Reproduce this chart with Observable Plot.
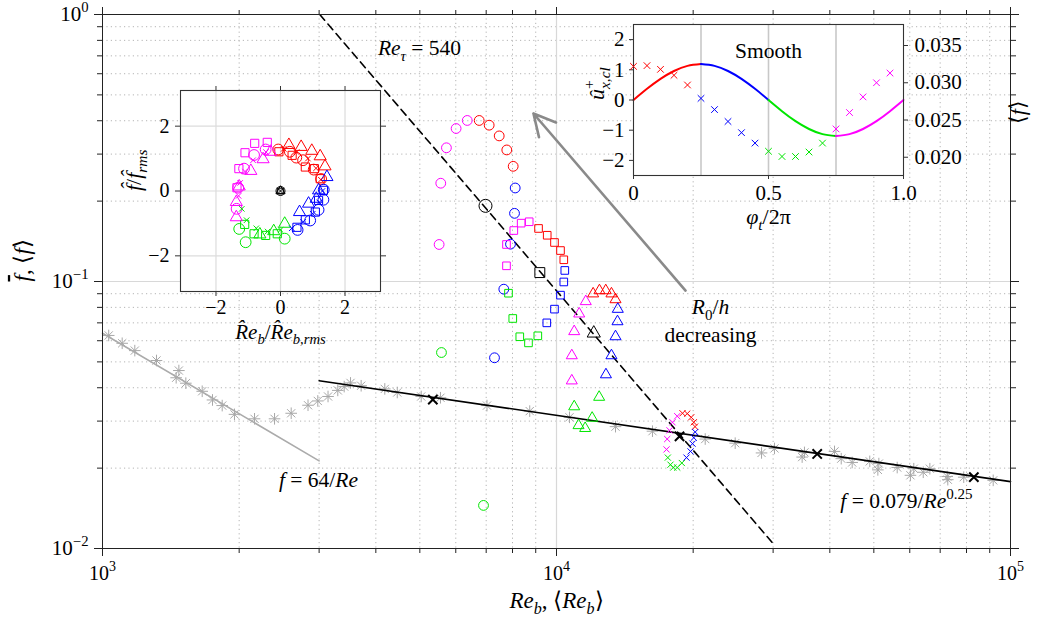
<!DOCTYPE html>
<html><head><meta charset="utf-8">
<script src="https://cdn.jsdelivr.net/npm/d3@7"></script>
<script src="https://cdn.jsdelivr.net/npm/@observablehq/plot@0.6"></script>
<style>
html,body{margin:0;padding:0;background:#fff;}
#wrap{position:relative;width:1038px;height:628px;overflow:hidden;background:#fff;}
#wrap svg{position:absolute;overflow:visible;}
</style></head><body><div id="wrap"></div>
<script>
// ---------------- main axes ticks ----------------
const xTicksMajor = [1e3, 1e4, 1e5];
const xTicksMinor = [2e3,3e3,4e3,5e3,6e3,7e3,8e3,9e3,2e4,3e4,4e4,5e4,6e4,7e4,8e4,9e4];
const yTicksMajor = [0.01, 0.1, 1];
const yTicksMinor = [0.02,0.03,0.04,0.05,0.06,0.07,0.08,0.09,0.2,0.3,0.4,0.5,0.6,0.7,0.8,0.9];

// ---------------- grey reference data (asterisks) ----------------
const refRe = [1032,1105,1178,1315,1473,1453,1526,1658,1747,1835,1953,2162,2393,2604,2836,2980,3139,3298,3407,3518,3713,4186,4459,5035,5552,7029,8730,10681,13489,16270,21260,24750,28290,30210,34760,35170,40960,42380,44800,48980,51290,51030,56290,60200,61230,64240,66430,72540,72760,78890,91600];
const refF  = [0.0628,0.0587,0.0551,0.0506,0.0464,0.0436,0.0416,0.0388,0.0360,0.0343,0.0318,0.0306,0.0306,0.0321,0.0344,0.0357,0.0371,0.0391,0.0404,0.0417,0.0407,0.0396,0.0384,0.0371,0.0367,0.0343,0.0327,0.0310,0.0286,0.0275,0.0257,0.0248,0.0228,0.0237,0.0220,0.0229,0.0231,0.0217,0.0210,0.0212,0.0208,0.0197,0.0201,0.0188,0.0199,0.0193,0.0199,0.0186,0.0181,0.0185,0.0180];

// correlation lines (endpoints)
const laminarRe = [1000, 3000];
const laminarF  = [0.064, 0.0213];
const turbRe = [3000, 100000];
const turbF  = [0.0425, 0.0178];
const retauRe = [3010, 29900];
const retauF  = [1.0, 0.0105];

// ---------------- pulsating cycles (quarter 0 red,1 blue,2 green,3 magenta) ----------------
const phaseColors = ["#ff0000", "#0000ff", "#00e600", "#ff00ff"];

const circleRe = [6757,7107,7478,7772,8028, 8110,8082,7919,7655,7302, 6906,5580, 5514,5560,5722,6010,6359];
const circleF  = [0.401,0.385,0.351,0.311,0.270, 0.224,0.180,0.138,0.0936,0.0518, 0.0145,0.0542, 0.1376,0.2334,0.3168,0.3741,0.401];
const circleQ  = [0,0,0,0,0, 1,1,1,1,1, 2,2, 3,3,3,3,3];

const squareRe = [9129,9540,9899,10205,10377, 10430,10377,10205,9899,9520, 9096,8675,8301,8011,7839, 7760,7760,8053,8359,8707];
const squareF  = [0.158,0.149,0.140,0.1306,0.1206, 0.110,0.0996,0.0889,0.0788,0.070, 0.0626,0.0589,0.0621,0.0727,0.0904, 0.1145,0.1376,0.1552,0.1654,0.1674];
const squareQ  = [0,0,0,0,0, 1,1,1,1,1, 2,2,2,2,2, 3,3,3,3,3];

const triRe = [12042,12433,12838,13214,13489, 13646,13626,13489,13214,12850, 12415,11982,11565,11182,10940, 10807,10807,10940,11220,11600];
const triF  = [0.090,0.0925,0.0925,0.090,0.0856, 0.0788,0.0708,0.0622,0.0528,0.0448, 0.0369,0.0308,0.0282,0.0289,0.034, 0.0425,0.0528,0.065,0.0757,0.0842];
const triQ  = [0,0,0,0,0, 1,1,1,1,1, 2,2,2,2,2, 3,3,3,3,3];

const crossRe = [18948,19407,19804,20065,20190, 20208,20065,19937,19735,19335, 18883,18447,18077,17828,17588, 17472,17533,17739,18011,18447];
const crossF  = [0.0321,0.0320,0.0310,0.0297,0.0286, 0.0273,0.0260,0.0247,0.0231,0.0219, 0.0209,0.0201,0.0201,0.0206,0.0219, 0.0235,0.0257,0.0277,0.0297,0.0313];
const crossQ  = [0,0,0,0,0, 1,1,1,1,1, 2,2,2,2,2, 3,3,3,3,3];

// cycle means (black)
const meanShapes = ["circle", "square", "triangle", "times"];
const meanRe = [6976, 9189, 12081, 18663];
const meanF  = [0.192, 0.108, 0.064, 0.0263];
// steady cases on the Blasius line (black x)
const steadyRe = [5341, 37516, 83040];
const steadyF  = [0.0361, 0.0226, 0.0185];

// arrow "R0/h decreasing" (tail, head)
const arrowRe = [19240, 8897];
const arrowF  = [0.0925, 0.4258];

// annotations
const noteText = ["*Re*_{*τ*} = 540", "*f* = 64/*Re*", "*f* = 0.079/*Re*^{0.25}", "*R*_{0}/*h*", "decreasing"];
const noteRe   = [4992, 2991, 59000, 21840, 21840];
const noteF    = [0.7457, 0.01798, 0.0150, 0.0800, 0.0632];
const xTitle = "*Re*_{*b*}, ⟨*Re*_{*b*}⟩";
const yTitle = "!{*f*}, ⟨*f*⟩";

// ---------------- left inset: normalised fluctuations ----------------
const insetTicks = [-2, 0, 2];
const inCircleU = [-0.07,0.29,0.49,0.70,1.03,1.26, 1.34,1.33,1.18,0.92,0.53, 0.13,-1.08,-1.28, -1.36,-1.31,-1.13,-0.82,-0.46];
const inCircleV = [1.28,1.21,1.03,0.95,0.66,0.37, 0.04,-0.27,-0.58,-0.91,-1.20, -1.47,-1.58,-1.17, -0.55,0.10,0.69,1.11,1.28];
const inCircleQ = [0,0,0,0,0,0, 1,1,1,1,1, 2,2,2, 3,3,3,3,3];
const inSquareU = [-0.05,0.36,0.77,1.05,1.23, 1.33,1.18,1.08,0.77,0.51, -0.10,-0.46,-0.82,-1.11, -1.35,-1.29,-1.10,-0.80,-0.41];
const inSquareV = [1.21,1.10,0.74,0.69,0.38, 0.02,-0.29,-0.65,-0.89,-1.12, -1.32,-1.37,-1.32,-1.03, 0.10,0.69,1.18,1.47,1.50];
const inSquareQ = [0,0,0,0,0, 1,1,1,1,1, 2,2,2,2, 3,3,3,3,3];
const inTriU = [0.26,0.64,0.97,1.23,1.38, 1.44,1.18,1.11,0.87,0.59, 0.13,-0.21,-0.64, -1.37,-1.37,-1.28,-0.92,-0.54,-0.31];
const inTriV = [1.42,1.36,1.24,1.07,0.76, 0.43,0.02,-0.24,-0.39,-0.65, -1.01,-1.24,-1.34, -0.81,-0.34,0.14,0.62,0.98,1.21];
const inTriQ = [0,0,0,0,0, 1,1,1,1,1, 2,2,2, 3,3,3,3,3,3];
const inCrossU = [0.1,0.5,0.85,1.1,1.25, 1.3,1.2,1.0,0.7,0.35, 0.0,-0.4,-0.75,-1.05,-1.2, -1.3,-1.25,-1.1,-0.85,-0.45];
const inCrossV = [1.3,1.2,1.0,0.7,0.35, 0.0,-0.35,-0.7,-0.95,-1.15, -1.2,-1.25,-1.15,-0.9,-0.55, -0.15,0.25,0.6,0.95,1.2];
const inCrossQ = [0,0,0,0,0, 1,1,1,1,1, 2,2,2,2,2, 3,3,3,3,3];

// ---------------- right inset: "Smooth" cycle ----------------
const phiTicks = [0, 0.5, 1];
const phiQuarters = [0.25, 0.5, 0.75];
const uTicks = [-2, -1, 0, 1, 2];
const fTicks = [0.020, 0.025, 0.030, 0.035];
const curvePhi = [0,0.05,0.1,0.15,0.2,0.25,0.3,0.35,0.4,0.45,0.5,0.55,0.6,0.65,0.7,0.75,0.8,0.85,0.9,0.95,1.0];
const curveU   = [0,0.37,0.70,0.96,1.13,1.19,1.13,0.96,0.70,0.37,0,-0.37,-0.70,-0.96,-1.13,-1.19,-1.13,-0.96,-0.70,-0.37,0];
const cyclePhi = [0,0.05,0.1,0.15,0.2,0.25,0.3,0.35,0.4,0.45,0.5,0.55,0.6,0.65,0.7,0.75,0.8,0.85,0.9,0.95];
const cycleF   = [0.0322,0.0323,0.0318,0.0310,0.0297,0.0279,0.0264,0.0248,0.0233,0.0219,0.0208,0.0201,0.0201,0.0207,0.0219,0.0238,0.0260,0.0281,0.0300,0.0313];
const cycleQ   = [0,0,0,0,0, 1,1,1,1,1, 2,2,2,2,2, 3,3,3,3,3];

// =============================================================
const FONT = "Liberation Serif";
const zip = (xs, ys, qs) => xs.map((x, i) => ({x, y: ys[i], q: qs ? qs[i] : 0}));
const wrap = document.getElementById("wrap");
const minus = d => (d < 0 ? "−" : "") + Math.abs(d);

const asterisk = {
  draw(ctx, size) {
    const r = Math.sqrt(size / Math.PI), d = r * Math.SQRT1_2;
    ctx.moveTo(-r, 0); ctx.lineTo(r, 0);
    ctx.moveTo(0, -r); ctx.lineTo(0, r);
    ctx.moveTo(-d, -d); ctx.lineTo(d, d);
    ctx.moveTo(-d, d); ctx.lineTo(d, -d);
  }
};

// rich text: *italic*, _{sub}, ^{sup}, !{overline}, & = back over previous run
function richify(svg) {
  d3.select(svg).selectAll("text").each(function () {
    this.setAttribute("font-family", FONT);
    this.style.setProperty("font-family", FONT, "important");
    const str = this.textContent;
    if (!/[*_^!&]/.test(str)) return;
    const fs = parseFloat(getComputedStyle(this).fontSize) || 16;
    const sel = d3.select(this);
    sel.text(null);
    let italic = false, cur = 0, buf = "", last = null, pendingDx = 0;
    const stack = [{lvl: 0, over: false}];
    const flush = () => {
      if (!buf) return;
      const top = stack[stack.length - 1];
      const target = top.lvl === 1 ? 0.28 * fs : top.lvl === 2 ? -0.42 * fs : 0;
      const ts = sel.append("tspan").text(buf);
      if (italic) ts.attr("font-style", "italic");
      if (top.lvl) ts.attr("font-size", 0.7 * fs);
      if (top.over) ts.style("text-decoration", "overline");
      if (target !== cur) { ts.attr("dy", target - cur); cur = target; }
      if (pendingDx) { ts.attr("dx", pendingDx); pendingDx = 0; }
      last = ts; buf = "";
    };
    for (let i = 0; i < str.length; i++) {
      const c = str[i];
      const top = stack[stack.length - 1];
      if (c === "*") { flush(); italic = !italic; }
      else if ((c === "_" || c === "^" || c === "!") && str[i + 1] === "{") {
        flush();
        stack.push(c === "!" ? {lvl: top.lvl, over: true} : {lvl: c === "_" ? 1 : 2, over: top.over});
        i++;
      }
      else if (c === "}" && stack.length > 1) { flush(); stack.pop(); }
      else if (c === "&") { flush(); if (last) pendingDx = -last.node().getComputedTextLength(); }
      else buf += c;
    }
    flush();
  });
}

function place(svg, left, top) {
  svg.style.left = left + "px";
  svg.style.top = top + "px";
  svg.setAttribute("font-family", FONT);
  svg.style.setProperty("font-family", FONT, "important");
  wrap.appendChild(svg);
  richify(svg);
}

const baseStyle = {fontSize: "20px", background: "transparent", overflow: "visible"};
const dotted = {stroke: "#b4b4b4", strokeDasharray: "1.2,3.2", strokeWidth: 1};

// ---------------- main chart ----------------
const loops = [
  {Re: circleRe, F: circleF, Q: circleQ, symbol: "circle", r: 4.9},
  {Re: squareRe, F: squareF, Q: squareQ, symbol: "square", r: 4.3},
  {Re: triRe, F: triF, Q: triQ, symbol: "triangle", r: 4.1},
  {Re: crossRe, F: crossF, Q: crossQ, symbol: "times", r: 2.9}
];
const meanR = [6.5, 5.6, 4.9, 4.3];

const main = Plot.plot({
  width: 1038, height: 628,
  marginLeft: 102, marginRight: 28, marginTop: 14, marginBottom: 80,
  x: {type: "log", domain: [1e3, 1e5], label: null},
  y: {type: "log", domain: [0.01, 1], label: null},
  color: {type: "identity"},
  style: baseStyle,
  marks: [
    Plot.ruleX(xTicksMinor, dotted),
    Plot.ruleY(yTicksMinor, dotted),
    Plot.ruleX(xTicksMajor.slice(1, -1), {stroke: "#d8d8d8", strokeWidth: 1.2}),
    Plot.ruleY(yTicksMajor.slice(1, -1), {stroke: "#d8d8d8", strokeWidth: 1.2}),
    Plot.dot(zip(refRe, refF), {x: "x", y: "y", symbol: asterisk, r: 5.8, stroke: "#a8a8a8", fill: "none", strokeWidth: 1}),
    Plot.line(zip(laminarRe, laminarF), {x: "x", y: "y", stroke: "#ababab", strokeWidth: 1.6}),
    Plot.line(zip(turbRe, turbF), {x: "x", y: "y", stroke: "#000", strokeWidth: 1.6}),
    Plot.line(zip(retauRe, retauF), {x: "x", y: "y", stroke: "#000", strokeWidth: 1.6, strokeDasharray: "7.5,5"}),
    ...loops.map(L => Plot.dot(zip(L.Re, L.F, L.Q), {
      x: "x", y: "y", symbol: L.symbol, r: L.r, fill: "none",
      stroke: d => phaseColors[d.q], strokeWidth: 1
    })),
    ...meanShapes.map((s, i) => Plot.dot([{x: meanRe[i], y: meanF[i]}], {
      x: "x", y: "y", symbol: s, r: meanR[i], fill: "none", stroke: "#000", strokeWidth: s === "times" ? 2 : 1
    })),
    Plot.dot(zip(steadyRe, steadyF), {x: "x", y: "y", symbol: "times", r: 4.3, stroke: "#000", strokeWidth: 2}),
    Plot.arrow([{x1: arrowRe[0], y1: arrowF[0], x2: arrowRe[1], y2: arrowF[1]}],
      {x1: "x1", y1: "y1", x2: "x2", y2: "y2", stroke: "#8a8a8a", strokeWidth: 2.6, headLength: 14, headAngle: 55}),
    Plot.text(noteText.map((t, i) => ({t, x: noteRe[i], y: noteF[i]})), {x: "x", y: "y", text: "t", fontSize: 21.5}),
    Plot.axisX(xTicksMinor, {anchor: "bottom", tickSize: 5, tickFormat: () => "", label: null, stroke: "#222"}),
    Plot.axisX(xTicksMajor, {anchor: "bottom", tickSize: 8, tickPadding: 9, label: null, stroke: "#222", fontSize: 20,
      tickFormat: d => "10^{" + minus(Math.round(Math.log10(d))) + "}"}),
    Plot.axisX(xTicksMinor, {anchor: "top", tickSize: 5, tickFormat: () => "", label: null, stroke: "#222"}),
    Plot.axisX(xTicksMajor, {anchor: "top", tickSize: 8, tickFormat: () => "", label: null, stroke: "#222"}),
    Plot.axisY(yTicksMinor, {anchor: "left", tickSize: 5, tickFormat: () => "", label: null, stroke: "#222"}),
    Plot.axisY(yTicksMajor, {anchor: "left", tickSize: 8, tickPadding: 6, label: null, stroke: "#222", fontSize: 21,
      tickFormat: d => "10^{" + minus(Math.round(Math.log10(d))) + "}"}),
    Plot.axisY(yTicksMinor, {anchor: "right", tickSize: 5, tickFormat: () => "", label: null, stroke: "#222"}),
    Plot.axisY(yTicksMajor, {anchor: "right", tickSize: 8, tickFormat: () => "", label: null, stroke: "#222"}),
    Plot.frame({stroke: "#222", strokeWidth: 1}),
    Plot.text([xTitle], {text: d => d, frameAnchor: "bottom", dy: 59, fontSize: 23}),
    Plot.text([yTitle], {text: d => d, frameAnchor: "left", dx: -80, rotate: -90, fontSize: 23})
  ]
});
place(main, 0, 0);

// ---------------- left inset ----------------
const inLoops = [
  {U: inCircleU, V: inCircleV, Q: inCircleQ, symbol: "circle", r: 5.4},
  {U: inSquareU, V: inSquareV, Q: inSquareQ, symbol: "square", r: 4.6},
  {U: inTriU, V: inTriV, Q: inTriQ, symbol: "triangle", r: 4.5},
  {U: inCrossU, V: inCrossV, Q: inCrossQ, symbol: "times", r: 2.6}
];
const insetL = Plot.plot({
  width: 280, height: 271, marginLeft: 70, marginRight: 10, marginTop: 10, marginBottom: 60,
  x: {domain: [-3.1, 3.1], label: null},
  y: {domain: [-3.1, 3.1], label: null},
  color: {type: "identity"},
  style: baseStyle,
  marks: [
    Plot.frame({fill: "white", stroke: null}),
    Plot.ruleX(insetTicks, {stroke: "#dcdcdc", strokeWidth: 1.2}),
    Plot.ruleY(insetTicks, {stroke: "#dcdcdc", strokeWidth: 1.2}),
    ...inLoops.map(L => Plot.dot(zip(L.U, L.V, L.Q), {
      x: "x", y: "y", symbol: L.symbol, r: L.r, fill: "none", stroke: d => phaseColors[d.q], strokeWidth: 1
    })),
    ...meanShapes.map((s, i) => Plot.dot([{x: 0, y: 0}], {x: "x", y: "y", symbol: s, r: [4.5, 3.2, 3.4, 3.2][i], fill: "none", stroke: "#000", strokeWidth: 1})),
    Plot.axisX(insetTicks, {anchor: "bottom", tickSize: 5, tickPadding: 3, label: null, tickFormat: minus, stroke: "#333", fontSize: 20}),
    Plot.axisY(insetTicks, {anchor: "left", tickSize: 5, tickPadding: 6, label: null, tickFormat: minus, stroke: "#333", fontSize: 20}),
    Plot.axisX(insetTicks, {anchor: "top", tickSize: 5, label: null, tickFormat: () => "", stroke: "#333"}),
    Plot.axisY(insetTicks, {anchor: "right", tickSize: 5, label: null, tickFormat: () => "", stroke: "#333"}),
    Plot.frame({stroke: "#333", strokeWidth: 1.1}),
    Plot.text(["*f\u0302*/*f\u0302*_{*rms*}"], {text: d => d, frameAnchor: "left", dx: -47, rotate: -90, fontSize: 22}),
    Plot.text(["*R\u0302e*_{*b*}/*R\u0302e*_{*b,rms*}"], {text: d => d, frameAnchor: "bottom", dy: 47, fontSize: 21})
  ]
});
place(insetL, 110, 80);

// ---------------- right inset (two overlaid y scales) ----------------
const segs = [];
for (let k = 0; k < 4; k++) {
  curvePhi.forEach((p, i) => {
    if (p >= k * 0.25 - 1e-9 && p <= (k + 1) * 0.25 + 1e-9) segs.push({x: p, y: curveU[i], seg: k});
  });
}
const rDims = {width: 447, height: 221, marginLeft: 50, marginRight: 127, marginTop: 10, marginBottom: 60};
const insetR1 = Plot.plot({
  ...rDims,
  x: {domain: [0, 1], label: null},
  y: {domain: [-2.5, 2.5], label: null},
  color: {type: "identity"},
  style: baseStyle,
  marks: [
    Plot.frame({fill: "white", stroke: null}),
    Plot.ruleX(phiQuarters, {stroke: "#c8c8c8", strokeWidth: 1.6}),
    Plot.line(segs, {x: "x", y: "y", z: "seg", stroke: d => phaseColors[d.seg], strokeWidth: 2, curve: "natural"}),
    Plot.axisX(phiTicks, {anchor: "bottom", tickSize: 4, tickPadding: 6, label: null, stroke: "#333", fontSize: 21,
      tickFormat: d => d === 0 ? "0" : d3.format(".1f")(d)}),
    Plot.axisY(uTicks, {anchor: "left", tickSize: 4, tickPadding: 5, label: null, tickFormat: minus, stroke: "#333", fontSize: 21}),
    Plot.frame({stroke: "#333", strokeWidth: 1.1}),
    Plot.text(["Smooth"], {text: d => d, frameAnchor: "top", dy: 18, fontSize: 21.5}),
    Plot.text(["*u\u0302*^{+}&_{*x,cl*}"], {text: d => d, frameAnchor: "left", dx: -37, rotate: -90, fontSize: 22}),
    Plot.text(["*φ*_{*t*}/2π"], {text: d => d, frameAnchor: "bottom", dy: 48, fontSize: 22})
  ]
});
place(insetR1, 583, 14);

const insetR2 = Plot.plot({
  ...rDims,
  x: {domain: [0, 1], label: null, axis: null},
  y: {domain: [0.01755, 0.03782], label: null},
  color: {type: "identity"},
  style: baseStyle,
  marks: [
    Plot.dot(zip(cyclePhi, cycleF, cycleQ), {x: "x", y: "y", symbol: "times", r: 3.1, fill: "none", stroke: d => phaseColors[d.q], strokeWidth: 1}),
    Plot.axisY(fTicks, {anchor: "right", tickSize: 4, tickPadding: 7, label: null, tickFormat: d3.format(".3f"), stroke: "#333", fontSize: 21}),
    Plot.text(["⟨*f*⟩"], {text: d => d, frameAnchor: "right", dx: 114, rotate: -90, fontSize: 22})
  ]
});
place(insetR2, 583, 14);
</script>
</body></html>
